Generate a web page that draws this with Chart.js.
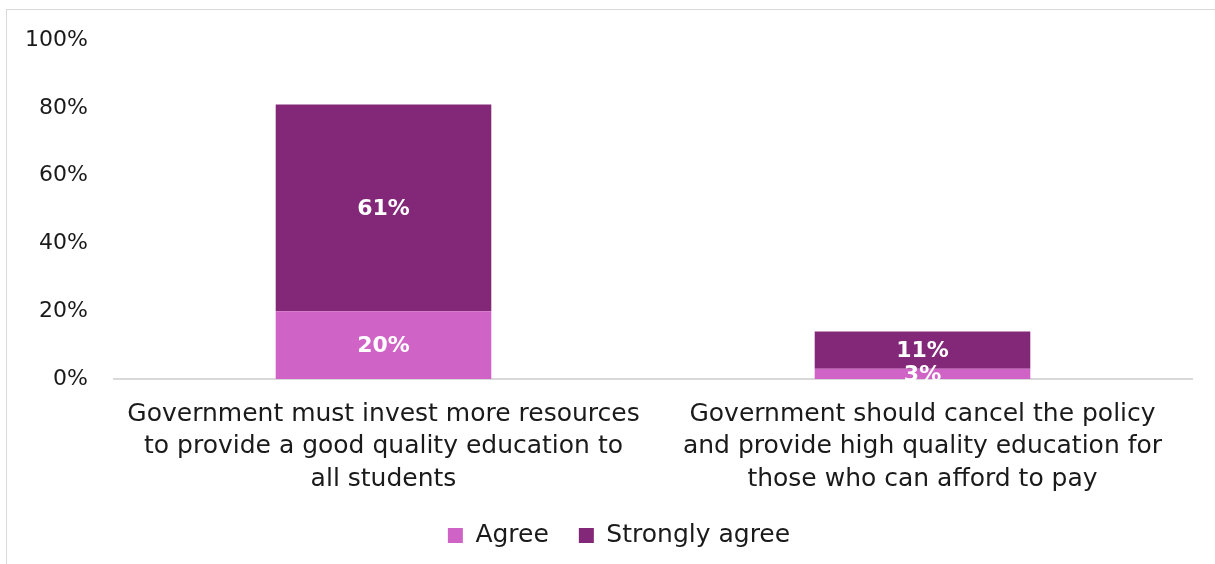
<!DOCTYPE html>
<html><head><meta charset="utf-8">
<script src="https://cdn.jsdelivr.net/npm/chart.js@4/dist/chart.umd.min.js"></script>
<style>
html,body{margin:0;padding:0;background:#fff;overflow:hidden;}
#wrap{position:absolute;left:0;top:0;width:1215px;height:564px;overflow:hidden;}
#frame{position:absolute;left:6px;top:9px;width:1250px;height:600px;border:1.5px solid #d9d9d9;box-sizing:border-box;}
canvas{position:absolute;left:0;top:0;}
</style></head>
<body>
<div id="wrap"><div id="frame"></div><canvas id="c" width="1215" height="564"></canvas></div>
<script>
const categories = [
  ["Government must invest more resources", "to provide a good quality education to", "all students"],
  ["Government should cancel the policy", "and provide high quality education for", "those who can afford to pay"]
];
const agree = [20, 3];
const stronglyAgree = [61, 11];
const yTicks = [0, 20, 40, 60, 80, 100];

const FONT = "'DejaVu Sans', sans-serif";

const labelPlugin = {
  id: 'segLabels',
  afterDatasetsDraw(chart) {
    const ctx = chart.ctx;
    ctx.save();
    ctx.fillStyle = '#ffffff';
    ctx.font = 'bold 22px ' + FONT;
    ctx.textAlign = 'center';
    ctx.textBaseline = 'middle';
    chart.data.datasets.forEach((ds, di) => {
      const meta = chart.getDatasetMeta(di);
      meta.data.forEach((el, i) => {
        const p = el.getProps(['x', 'y', 'base'], true);
        ctx.fillText(ds.data[i] + '%', p.x, (p.y + p.base) / 2 + 1);
      });
    });
    ctx.restore();
  }
};

const legendShift = {
  id: 'legendShift',
  afterLayout(chart) {
    const l = chart.legend;
    if (l) { l.left += 23; l.right += 23; }
  }
};

new Chart(document.getElementById('c'), {
  type: 'bar',
  data: {
    labels: categories,
    datasets: [
      { label: 'Agree', data: agree, backgroundColor: '#d063c6', barPercentage: 0.8, categoryPercentage: 0.5 },
      { label: 'Strongly agree', data: stronglyAgree, backgroundColor: '#832878', barPercentage: 0.8, categoryPercentage: 0.5 }
    ]
  },
  options: {
    responsive: false,
    animation: false,
    devicePixelRatio: 1,
    layout: { padding: { left: 0, right: 23, top: 40, bottom: 6 } },
    scales: {
      x: {
        stacked: true,
        grid: { display: false, drawTicks: false },
        border: { display: true, color: '#d9d9d9', width: 2 },
        ticks: { color: '#1a1a1a', font: { family: FONT, size: 25, lineHeight: 1.3 }, padding: 19, maxRotation: 0, autoSkip: false },
        afterFit(s) { s.height = 114; }
      },
      y: {
        stacked: true,
        min: 0, max: 100,
        afterBuildTicks(s) { s.ticks = yTicks.map(v => ({ value: v })); },
        grid: { display: false, drawTicks: false },
        border: { display: false },
        ticks: { color: '#1a1a1a', font: { family: FONT, size: 22 }, padding: 26, callback: v => v + '%' },
        afterFit(s) { s.width = 114; }
      }
    },
    plugins: {
      legend: {
        position: 'bottom',
        labels: { color: '#1a1a1a', font: { family: FONT, size: 25 }, boxWidth: 15, boxHeight: 15, padding: 30 }
      },
      tooltip: { enabled: false }
    }
  },
  plugins: [labelPlugin, legendShift]
});
</script>
</body></html>
